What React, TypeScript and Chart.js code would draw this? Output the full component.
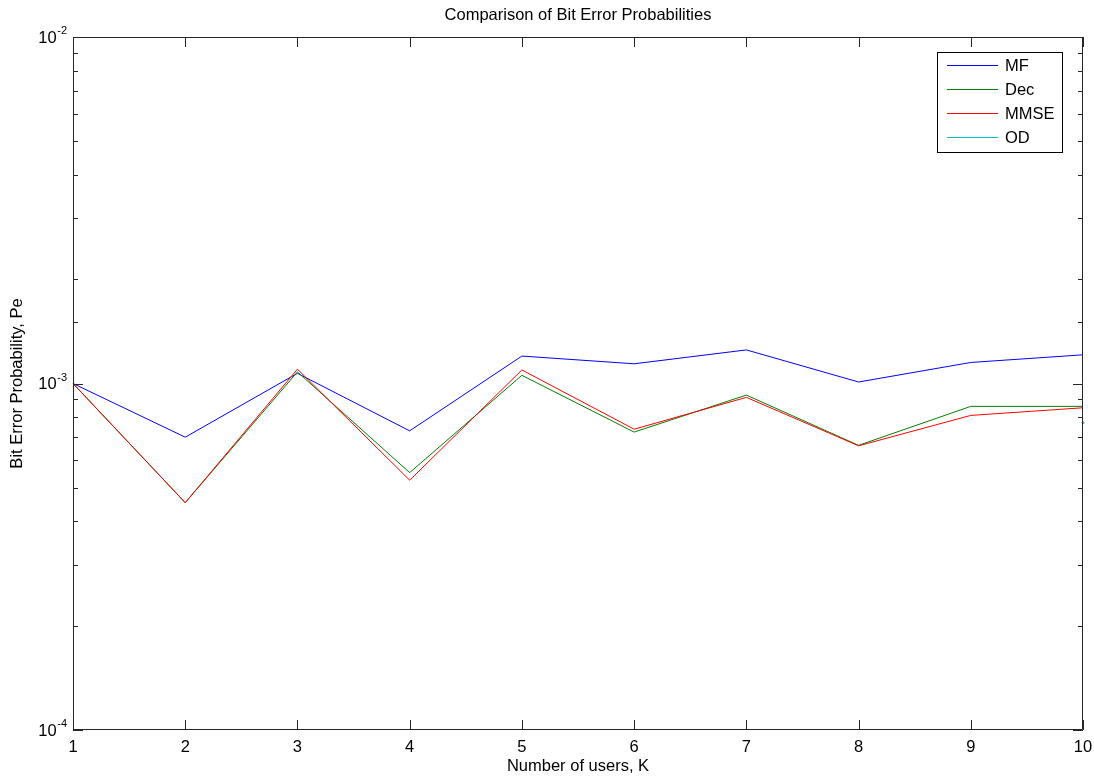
import React, { useEffect, useRef } from 'react';
import { Chart, registerables } from 'chart.js';

Chart.register(...registerables);

// ---- data ----
const users = ['1', '2', '3', '4', '5', '6', '7', '8', '9', '10'];
const mfPe = [1.0e-3, 7.0e-4, 1.07e-3, 7.3e-4, 1.2e-3, 1.14e-3, 1.25e-3, 1.01e-3, 1.15e-3, 1.21e-3];
const decPe = [1.0e-3, 4.53e-4, 1.08e-3, 5.53e-4, 1.056e-3, 7.24e-4, 9.26e-4, 6.63e-4, 8.59e-4, 8.59e-4];
const mmsePe = [1.0e-3, 4.53e-4, 1.1e-3, 5.26e-4, 1.094e-3, 7.38e-4, 9.12e-4, 6.61e-4, 8.09e-4, 8.51e-4];
const odPe = [null, null, null, null, null, null, null, null, null, 7.7e-4];
const seriesNames = ['MF', 'Dec', 'MMSE', 'OD'];
const seriesColors = ['#0000ff', '#008000', '#ff0000', '#00bfbf'];
const yDecadeExponents = [-4, -3, -2];
const yMin = 1e-4;
const yMax = 1e-2;
const chartTitle = 'Comparison of Bit Error Probabilities';
const xTitle = 'Number of users, K';
const yTitle = 'Bit Error Probability, Pe';

const FONT = '"Liberation Sans", Arial, Helvetica, sans-serif';
const FS = 16.5;

const isDecade = (v: number) => Math.abs(Math.log10(v) - Math.round(Math.log10(v))) < 1e-9;

const framePlugin = {
  id: 'matlabFrame',
  afterDatasetsDraw(chart: any) {
    const { ctx, chartArea, scales } = chart;
    const { left, right, top, bottom } = chartArea;
    const x = scales.x;
    const y = scales.y;
    ctx.save();
    ctx.strokeStyle = '#262626';
    ctx.lineWidth = 1;
    ctx.beginPath();
    ctx.rect(left + 0.5, top + 0.5, right - left - 1, bottom - top - 1);
    // y ticks (inward, both sides)
    y.ticks.forEach((t: any) => {
      const py = Math.round(y.getPixelForValue(t.value)) + 0.5;
      const len = isDecade(t.value) ? 10 : 5;
      ctx.moveTo(left, py);
      ctx.lineTo(left + len, py);
      ctx.moveTo(right, py);
      ctx.lineTo(right - len, py);
    });
    // x ticks (inward, top and bottom)
    x.ticks.forEach((_t: any, i: number) => {
      const px = Math.round(x.getPixelForTick(i)) + 0.5;
      ctx.moveTo(px, bottom);
      ctx.lineTo(px, bottom - 10);
      ctx.moveTo(px, top);
      ctx.lineTo(px, top + 10);
    });
    ctx.stroke();

    // y decade labels 10^e
    ctx.fillStyle = '#000';
    yDecadeExponents.forEach((e) => {
      const py = y.getPixelForValue(Math.pow(10, e));
      const expText = String(e);
      ctx.font = `11px ${FONT}`;
      const we = ctx.measureText(expText).width;
      const expRight = left - 6;
      ctx.textAlign = 'left';
      ctx.textBaseline = 'alphabetic';
      ctx.fillText(expText, expRight - we, py - 3);
      ctx.font = `${FS}px ${FONT}`;
      ctx.textAlign = 'right';
      ctx.textBaseline = 'middle';
      ctx.fillText('10', expRight - we - 0.5, py + 1);
    });
    ctx.restore();
  },
};

const legendPlugin = {
  id: 'insideLegend',
  afterDraw(chart: any) {
    const { ctx, chartArea } = chart;
    const w = 126;
    const h = 101;
    const bx = chartArea.right - 20 - w;
    const by = chartArea.top + 15;
    ctx.save();
    ctx.fillStyle = '#ffffff';
    ctx.fillRect(bx, by, w, h);
    ctx.strokeStyle = '#000000';
    ctx.lineWidth = 1;
    ctx.strokeRect(bx + 0.5, by + 0.5, w - 1, h - 1);
    ctx.font = `${FS}px ${FONT}`;
    ctx.textBaseline = 'middle';
    ctx.textAlign = 'left';
    seriesNames.forEach((name, i) => {
      const ry = Math.round(by + 13 + i * 24) + 0.5;
      ctx.strokeStyle = seriesColors[i];
      ctx.lineWidth = 1;
      ctx.beginPath();
      ctx.moveTo(bx + 10, ry);
      ctx.lineTo(bx + 61, ry);
      ctx.stroke();
      ctx.fillStyle = '#000';
      ctx.fillText(name, bx + 68, ry + 1);
    });
    ctx.restore();
  },
};

export default function App() {
  const ref = useRef<HTMLCanvasElement | null>(null);

  useEffect(() => {
    document.body.style.margin = '0';
    const canvas = ref.current;
    if (!canvas) return;
    const seriesData = [mfPe, decPe, mmsePe, odPe];
    const n = seriesNames.length;
    const chart = new Chart(canvas, {
      type: 'line',
      data: {
        labels: users,
        datasets: seriesNames.map((name, i) => ({
          label: name,
          data: seriesData[i],
          borderColor: seriesColors[i],
          backgroundColor: seriesColors[i],
          borderWidth: 1,
          pointRadius: name === 'OD' ? 1 : 0,
          pointHoverRadius: 0,
          tension: 0,
          fill: false,
          spanGaps: false,
          order: n - 1 - i,
        })),
      },
      options: {
        animation: false,
        responsive: false,
        devicePixelRatio: 1,
        events: [],
        layout: { padding: { top: 0, left: 0, right: 11, bottom: 0 } },
        plugins: {
          legend: { display: false },
          tooltip: { enabled: false },
          title: {
            display: true,
            text: chartTitle,
            fullSize: false,
            color: '#000',
            font: { family: FONT, size: FS, weight: 'normal' },
            padding: { top: 6, bottom: 11.2 },
          },
        },
        scales: {
          x: {
            type: 'category',
            offset: false,
            grid: { display: false },
            border: { display: false },
            ticks: {
              color: '#000',
              font: { family: FONT, size: FS },
              padding: 0,
              maxRotation: 0,
              autoSkip: false,
            },
            title: {
              display: true,
              text: xTitle,
              color: '#000',
              font: { family: FONT, size: FS },
              padding: { top: 0, bottom: 0 },
            },
            afterFit: (s: any) => {
              s.height = 46;
            },
          },
          y: {
            type: 'logarithmic',
            min: yMin,
            max: yMax,
            grid: { display: false },
            border: { display: false },
            ticks: {
              autoSkip: false,
              callback: () => '',
            },
            title: {
              display: true,
              text: yTitle,
              color: '#000',
              font: { family: FONT, size: FS },
              padding: { top: 8, bottom: 0 },
            },
            afterFit: (s: any) => {
              s.width = 73;
            },
          },
        },
      },
      plugins: [framePlugin, legendPlugin],
    } as any);
    return () => chart.destroy();
  }, []);

  return (
    <div style={{ position: 'absolute', left: 0, top: 0, width: 1094, height: 776, background: '#fff' }}>
      <canvas ref={ref} width={1094} height={776} style={{ display: 'block' }} />
    </div>
  );
}
